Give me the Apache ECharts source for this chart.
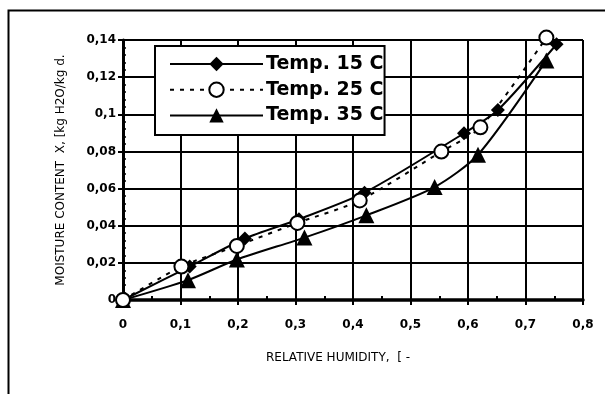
<!DOCTYPE html>
<html>
<head>
<meta charset="utf-8">
<script src="https://cdn.jsdelivr.net/npm/echarts@6/dist/echarts.min.js"></script>
<style>
html,body{margin:0;padding:0;background:#fff;}
#chart{width:605px;height:394px;}
</style>
</head>
<body>
<div id="chart"></div>
<script>
// Series names
const seriesNames = ['Temp. 15 C', 'Temp. 25 C', 'Temp. 35 C'];
// Relative humidity (x) and moisture content (y) for each temperature
const rh15 = [0, 0.116, 0.212, 0.306, 0.420, 0.593, 0.652, 0.754];
const mc15 = [0, 0.0180, 0.0331, 0.0435, 0.0578, 0.0898, 0.1023, 0.1377];
const rh25 = [0, 0.1016, 0.198, 0.3033, 0.4117, 0.5537, 0.6216, 0.7363];
const mc25 = [0, 0.0180, 0.0291, 0.0415, 0.0536, 0.0799, 0.0930, 0.1413];
const rh35 = [0, 0.113, 0.198, 0.3155, 0.4233, 0.542, 0.6174, 0.7363];
const mc35 = [0, 0.0107, 0.0218, 0.0336, 0.0456, 0.0608, 0.0782, 0.1290];
// Axis ranges / titles
const xMin = 0, xMax = 0.8, xStep = 0.1, xMinorStep = 0.05;
const yMin = 0, yMax = 0.14, yStep = 0.02, yMinorStep = 0.004;
const xTitle = 'RELATIVE HUMIDITY,  [ -';
const yTitle = 'MOISTURE CONTENT  X, [kg H2O/kg d.';

function pairs(xs, ys) { return xs.map((x, i) => [x, ys[i]]); }
function fmt(v) { return String(+(+v).toFixed(3)).replace('.', ','); }

const chart = echarts.init(document.getElementById('chart'), null, {renderer: 'canvas'});
const black = '#000';
const labelFont = {fontFamily: 'DejaVu Sans', fontWeight: 'bold', fontSize: 12, color: black};

chart.setOption({
  animation: false,
  backgroundColor: '#fff',
  grid: {left: 123, right: 22, top: 40, bottom: 94, containLabel: false},
  graphic: [{
    type: 'polyline', silent: true,
    shape: {points: [[8.5, 394], [8.5, 10.5], [605, 10.5]]},
    style: {stroke: black, lineWidth: 2, fill: null}
  }],
  legend: {
    orient: 'vertical', left: 155, top: 46,
    data: seriesNames,
    itemWidth: 93, itemHeight: 18, itemGap: 6.7,
    padding: [8.5, 1, 10, 14],
    borderColor: black, borderWidth: 2, borderRadius: 0,
    backgroundColor: '#fff',
    textStyle: {fontFamily: 'DejaVu Sans', fontWeight: 'bold', fontSize: 19, color: black, padding: [0, 0, 0, -2]},
    z: 10
  },
  xAxis: [{
    type: 'value', position: 'bottom', min: xMin, max: xMax, interval: xStep,
    axisLine: {show: true, onZero: false, lineStyle: {color: black, width: 2}},
    axisTick: {show: true, inside: false, length: 5, lineStyle: {color: black, width: 2}},
    axisLabel: Object.assign({margin: 19, formatter: fmt}, labelFont),
    splitLine: {show: true, lineStyle: {color: black, width: 2}},
    name: xTitle, nameLocation: 'middle', nameGap: 52,
    nameTextStyle: {fontFamily: 'DejaVu Sans', fontSize: 12, color: black, padding: [0, 30, 0, 0]}
  }, {
    type: 'value', position: 'bottom', min: xMin, max: xMax, interval: xMinorStep,
    axisLine: {show: false},
    axisTick: {show: true, inside: true, length: 4, lineStyle: {color: black, width: 2}},
    axisLabel: {show: false}, splitLine: {show: false}
  }, {
    type: 'value', position: 'top', min: xMin, max: xMax, interval: xStep,
    axisLine: {show: true, lineStyle: {color: black, width: 3.5}},
    axisTick: {show: false}, axisLabel: {show: false}, splitLine: {show: false}
  }],
  yAxis: [{
    type: 'value', position: 'left', min: yMin, max: yMax, interval: yStep,
    axisLine: {show: true, onZero: false, lineStyle: {color: black, width: 2}},
    axisTick: {show: true, inside: false, length: 5, lineStyle: {color: black, width: 2}},
    axisLabel: Object.assign({margin: 7, formatter: fmt}, labelFont),
    splitLine: {show: true, lineStyle: {color: black, width: 2}},
    name: yTitle, nameLocation: 'middle', nameGap: 56,
    nameTextStyle: {fontFamily: 'DejaVu Sans', fontSize: 12, color: black}
  }, {
    type: 'value', position: 'left', min: yMin, max: yMax, interval: yMinorStep,
    axisLine: {show: false},
    axisTick: {show: true, inside: true, length: 3, lineStyle: {color: black, width: 1.5}},
    axisLabel: {show: false}, splitLine: {show: false}
  }, {
    type: 'value', position: 'right', min: yMin, max: yMax, interval: yStep,
    axisLine: {show: true, lineStyle: {color: black, width: 3}},
    axisTick: {show: false}, axisLabel: {show: false}, splitLine: {show: false}
  }],
  series: [{
    name: seriesNames[0], type: 'line', data: pairs(rh15, mc15),
    smooth: 0.25, clip: false, z: 3,
    symbol: 'diamond', symbolSize: 14,
    itemStyle: {color: black, borderColor: black, borderWidth: 0},
    lineStyle: {color: black, width: 2, type: 'solid'}
  }, {
    name: seriesNames[1], type: 'line', data: pairs(rh25, mc25),
    smooth: 0.25, clip: false, z: 4,
    symbol: 'circle', symbolSize: 14, showSymbol: true,
    itemStyle: {color: '#fff', borderColor: black, borderWidth: 2},
    lineStyle: {color: black, width: 2, type: [4, 6]}
  }, {
    name: seriesNames[2], type: 'line', data: pairs(rh35, mc35),
    smooth: 0.25, clip: false, z: 3,
    symbol: 'triangle', symbolSize: 16,
    itemStyle: {color: black, borderColor: black, borderWidth: 0},
    lineStyle: {color: black, width: 2, type: 'solid'}
  }]
});
</script>
</body>
</html>
